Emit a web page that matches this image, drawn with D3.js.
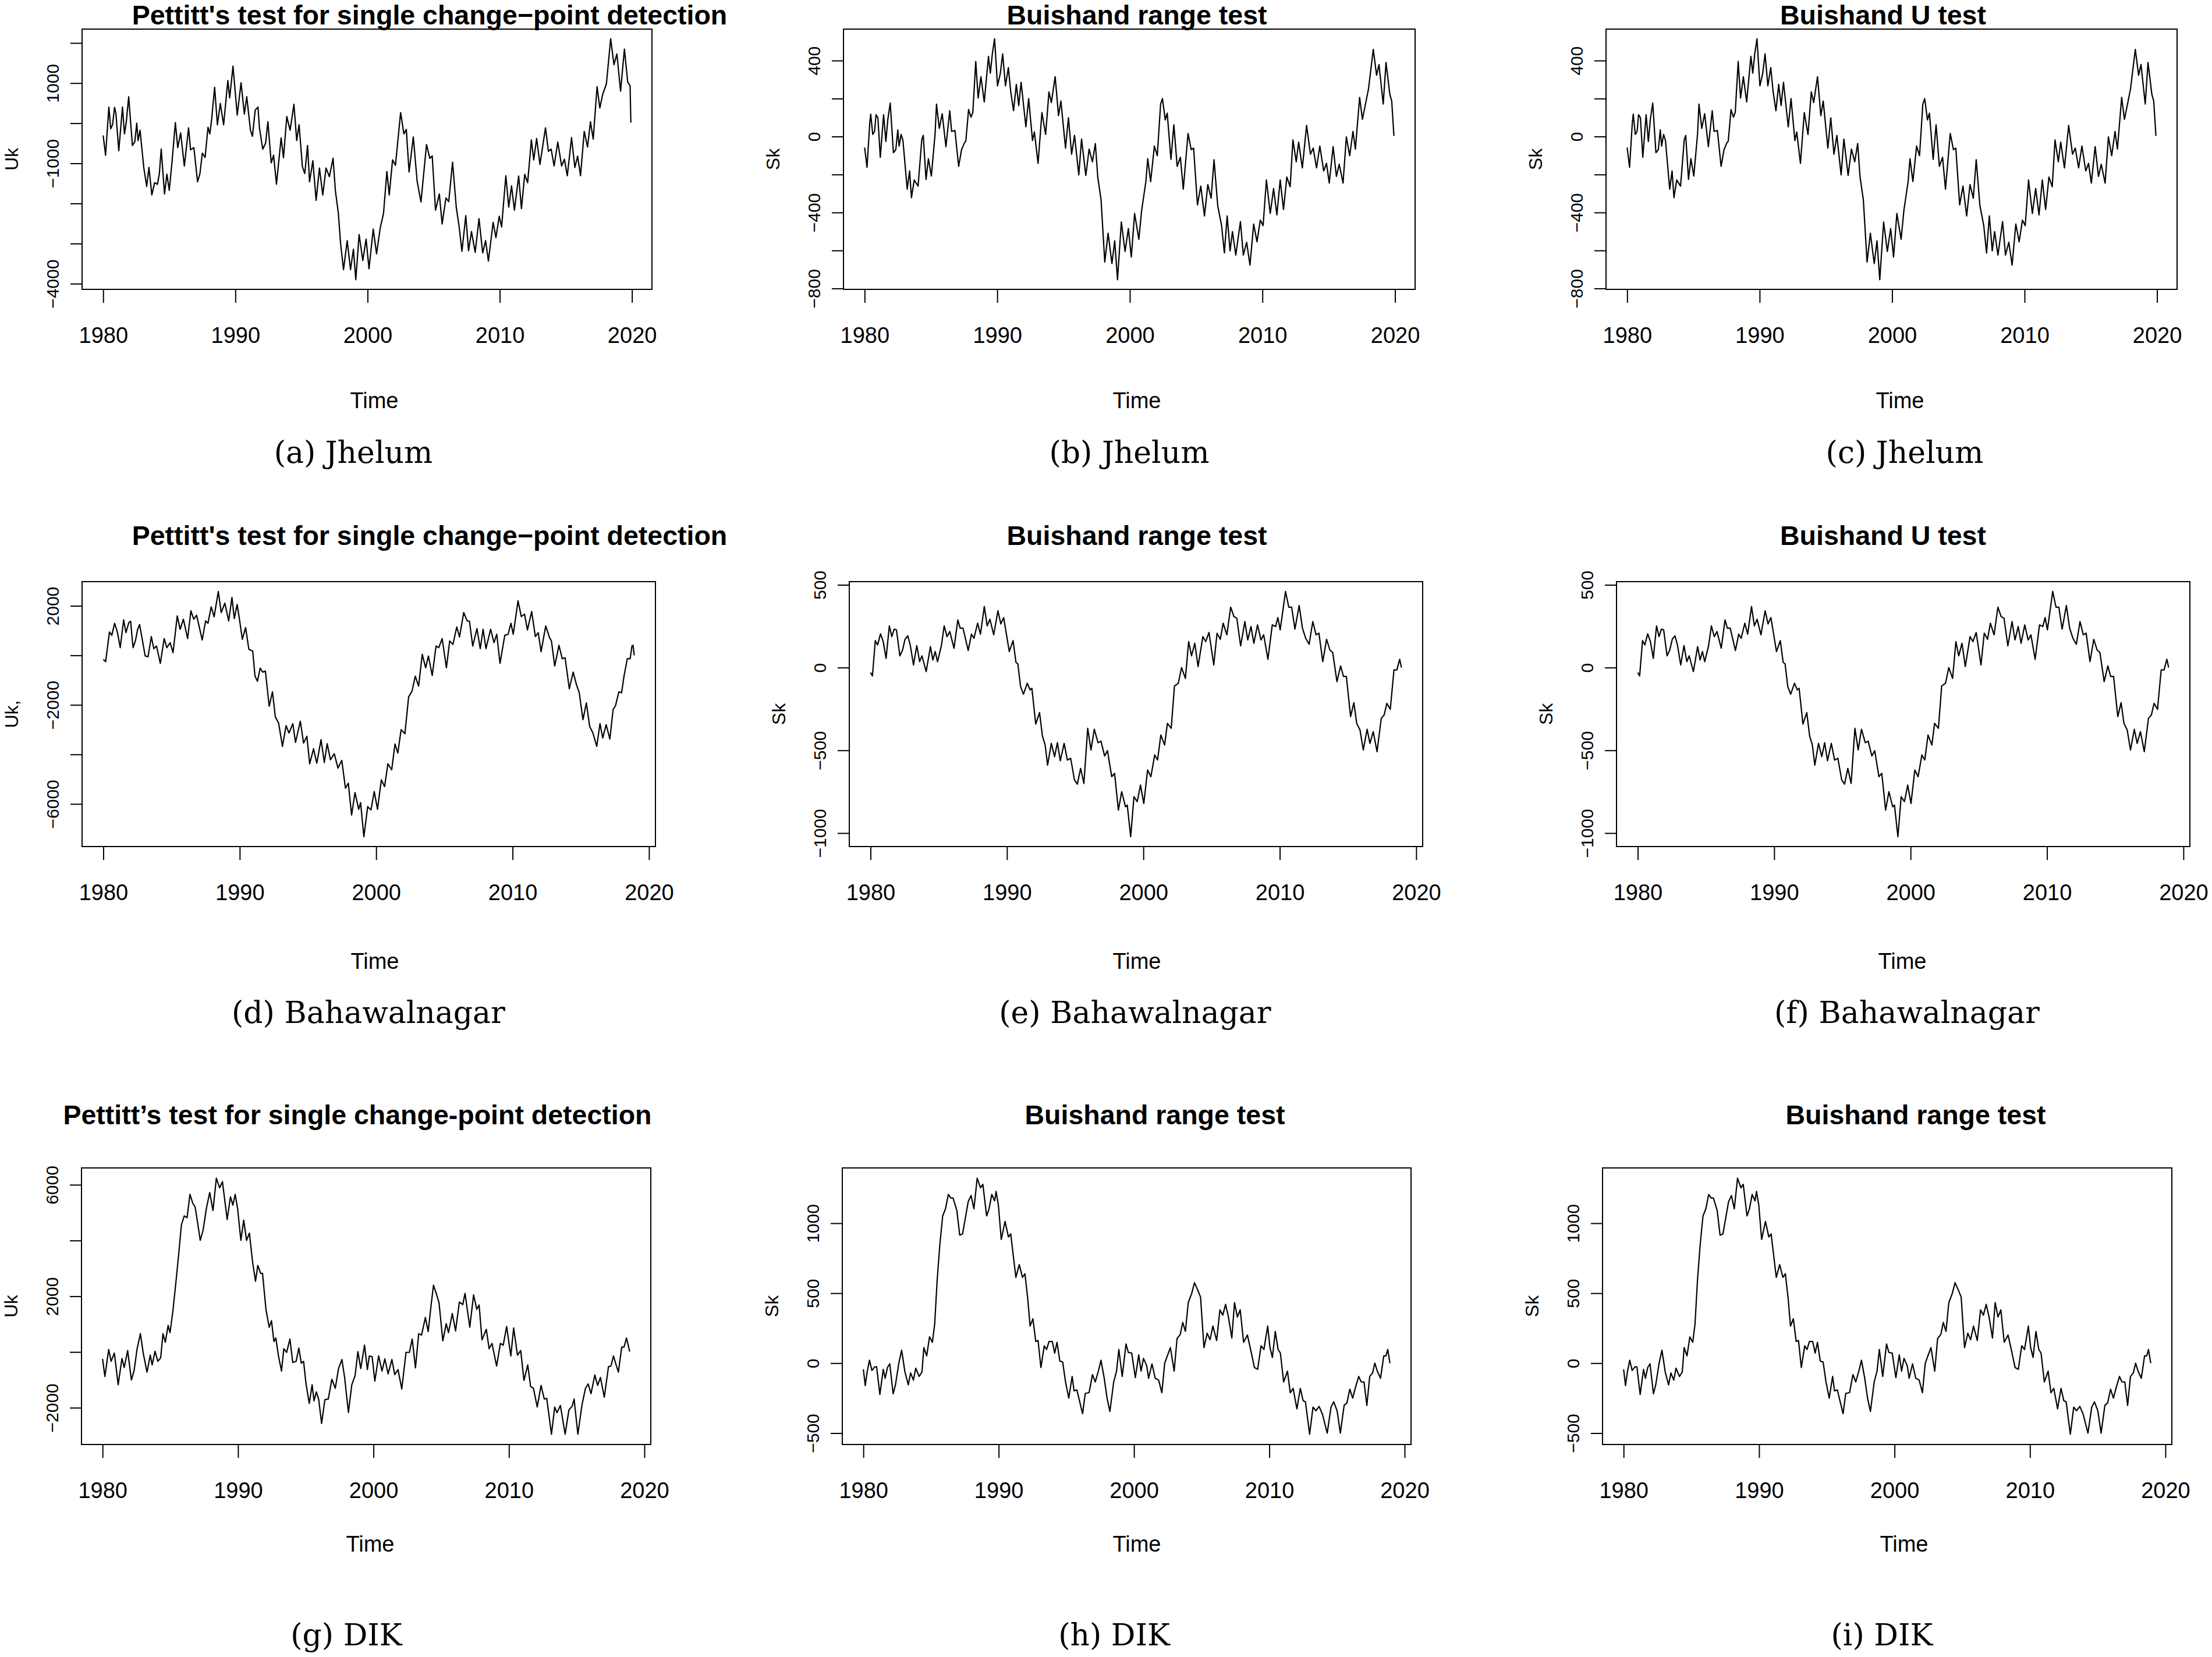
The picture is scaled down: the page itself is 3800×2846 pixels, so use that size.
<!DOCTYPE html>
<html>
<head>
<meta charset="utf-8">
<script src="https://cdn.jsdelivr.net/npm/d3@7"></script>
<style>
  body { margin: 0; background: #fff; }
</style>
</head>
<body>
<div id="chart"></div>
<script>
// Data
const START_YEAR = 1980
const xTicks = [1980, 1990, 2000, 2010, 2020]

// [years since Jan 1980, statistic]
const jhelumUk = [[0,-304],[0.18,-798],[0.43,403],[0.57,-137],[0.71,-38],[0.86,395],[0.96,251],[1.18,-684],[1.46,403],[1.61,-266],[1.75,38],[1.93,662],[2.21,-555],[2.39,-464],[2.54,0],[2.64,-433],[2.79,-175],[3.07,-1103],[3.29,-1574],[3.46,-1103],[3.68,-1787],[3.89,-1483],[4.11,-1521],[4.25,-1255],[4.39,-646],[4.64,-1764],[4.82,-1270],[5.0,-1673],[5.21,-951],[5.46,15],[5.64,-608],[5.86,-243],[6.14,-1065],[6.46,-114],[6.61,-662],[6.86,-608],[7.14,-1460],[7.32,-1255],[7.5,-745],[7.71,-852],[7.93,-99],[8.07,-266],[8.21,114],[8.43,897],[8.64,-38],[8.86,494],[9.11,-38],[9.43,1065],[9.57,631],[9.82,1422],[10.14,205],[10.43,1011],[10.68,228],[10.86,662],[11.14,-175],[11.29,-327],[11.5,327],[11.71,403],[11.82,-114],[12.07,-646],[12.29,-494],[12.46,38],[12.71,-988],[12.89,-798],[13.11,-1521],[13.46,-365],[13.64,-859],[13.89,167],[14.14,-175],[14.43,471],[14.64,-433],[14.82,-38],[15.07,-1080],[15.25,-1255],[15.46,-555],[15.61,-1460],[15.86,-935],[16.11,-1924],[16.36,-1118],[16.61,-1787],[16.86,-1118],[17.11,-1331],[17.39,-875],[17.57,-1696],[17.79,-2243],[17.96,-3004],[18.18,-3650],[18.46,-2928],[18.71,-3650],[18.93,-3141],[19.11,-3901],[19.36,-2776],[19.64,-3422],[19.89,-2890],[20.11,-3627],[20.43,-2639],[20.68,-3255],[20.96,-2608],[21.21,-2243],[21.46,-1202],[21.64,-1787],[21.89,-913],[22.11,-1049],[22.5,266],[22.75,-266],[22.93,-152],[23.14,-1217],[23.46,-342],[23.75,-1445],[24.04,-1962],[24.46,-532],[24.71,-875],[24.89,-814],[25.14,-2167],[25.43,-1764],[25.64,-2510],[25.93,-1863],[26.14,-1954],[26.43,-973],[26.71,-2091],[26.93,-2586],[27.14,-3194],[27.43,-2304],[27.64,-3179],[27.86,-2700],[28.14,-3217],[28.43,-2380],[28.71,-3232],[28.93,-2928],[29.14,-3437],[29.5,-2471],[29.71,-2852],[29.96,-2319],[30.14,-2586],[30.46,-1308],[30.68,-2091],[30.89,-1559],[31.11,-2167],[31.43,-1316],[31.64,-2129],[31.89,-1278],[32.11,-1483],[32.39,-418],[32.57,-913],[32.79,-380],[33.04,-1027],[33.46,-114],[33.68,-700],[33.89,-646],[34.11,-1065],[34.39,-471],[34.68,-1065],[34.89,-897],[35.11,-1308],[35.43,-357],[35.68,-1103],[35.89,-821],[36.11,-1308],[36.39,-205],[36.64,-593],[36.86,38],[37.07,-395],[37.36,913],[37.57,380],[37.79,722],[38.07,989],[38.39,2106],[38.64,1460],[38.86,1726],[39.14,798],[39.43,1848],[39.68,1027],[39.86,935],[39.917,15]]

const jhelumSk = [[0,-58],[0.18,-162],[0.39,75],[0.46,118],[0.61,11],[0.75,27],[0.86,115],[1.0,99],[1.18,-109],[1.43,115],[1.6,-26],[1.75,91],[1.93,176],[2.17,-85],[2.35,-69],[2.5,35],[2.6,-50],[2.75,11],[2.89,-21],[3.21,-277],[3.39,-181],[3.53,-322],[3.74,-229],[4.03,-261],[4.31,-16],[4.42,6],[4.63,-226],[4.81,-117],[5.03,-208],[5.31,11],[5.42,171],[5.63,43],[5.85,120],[6.13,-53],[6.42,136],[6.56,27],[6.81,32],[7.09,-157],[7.31,-69],[7.52,-34],[7.63,-24],[7.84,142],[8.02,102],[8.16,128],[8.38,395],[8.56,203],[8.77,315],[9.02,182],[9.34,422],[9.48,334],[9.63,435],[9.8,515],[10.02,267],[10.23,331],[10.41,435],[10.62,267],[10.84,363],[11.02,235],[11.23,136],[11.44,275],[11.62,163],[11.8,286],[12.16,51],[12.37,200],[12.66,-21],[12.8,24],[13.08,-141],[13.37,126],[13.65,11],[13.9,235],[14.08,179],[14.37,315],[14.62,110],[14.8,187],[15.15,-61],[15.37,99],[15.61,-93],[15.83,6],[16.15,-202],[16.36,-13],[16.68,-205],[16.93,-66],[17.18,-133],[17.4,-37],[17.58,-213],[17.83,-333],[18.11,-661],[18.36,-509],[18.65,-669],[18.86,-549],[19.07,-754],[19.36,-450],[19.64,-605],[19.89,-485],[20.11,-634],[20.36,-405],[20.68,-541],[20.89,-389],[21.21,-237],[21.35,-117],[21.57,-237],[21.85,-50],[22.07,-101],[22.32,171],[22.46,200],[22.67,88],[22.82,123],[23.1,-120],[23.32,62],[23.57,-157],[23.81,-109],[24.03,-277],[24.39,16],[24.63,-69],[24.81,-61],[25.1,-360],[25.35,-261],[25.63,-418],[25.88,-253],[26.13,-325],[26.35,-122],[26.63,-365],[26.92,-469],[27.13,-613],[27.34,-418],[27.56,-602],[27.74,-501],[27.99,-624],[28.34,-448],[28.56,-624],[28.81,-557],[29.06,-677],[29.34,-461],[29.59,-554],[29.84,-440],[30.05,-469],[30.3,-229],[30.59,-405],[30.84,-274],[31.09,-413],[31.34,-229],[31.59,-384],[31.84,-213],[32.09,-264],[32.3,-18],[32.55,-133],[32.73,-29],[33.01,-165],[33.33,59],[33.62,-93],[33.83,-61],[34.08,-165],[34.33,-50],[34.62,-181],[34.83,-141],[35.04,-245],[35.33,-53],[35.58,-210],[35.79,-146],[36.08,-245],[36.33,-2],[36.58,-101],[36.83,27],[37.01,-66],[37.33,206],[37.54,91],[37.75,163],[38.0,251],[38.36,459],[38.61,323],[38.79,379],[39.11,171],[39.32,390],[39.61,222],[39.75,187],[39.917,3]]

const bahawalUk = [[0,-162],[0.17,-257],[0.45,946],[0.62,811],[0.83,1297],[1.04,919],[1.24,311],[1.49,1432],[1.66,919],[1.87,1324],[2.0,1378],[2.18,311],[2.35,581],[2.52,1054],[2.66,1243],[2.83,716],[3.07,-27],[3.28,-54],[3.52,757],[3.7,270],[3.9,378],[4.18,-324],[4.46,676],[4.66,311],[4.9,514],[5.11,108],[5.42,1595],[5.63,1054],[5.87,1459],[6.18,676],[6.42,1797],[6.63,1459],[6.84,1622],[7.25,622],[7.5,1392],[7.67,1297],[7.91,1959],[8.12,1554],[8.43,2581],[8.64,1730],[8.91,2108],[9.19,1392],[9.43,2338],[9.6,1486],[9.81,2054],[9.98,1459],[10.19,649],[10.43,1122],[10.67,243],[10.95,176],[11.12,-838],[11.3,-1041],[11.5,-514],[11.68,-676],[11.88,-635],[12.16,-2054],[12.4,-1473],[12.61,-2486],[12.85,-2730],[13.13,-3676],[13.4,-2838],[13.61,-3135],[13.89,-2757],[14.09,-3514],[14.44,-2662],[14.68,-3541],[14.92,-3270],[15.13,-4378],[15.41,-3770],[15.65,-4351],[15.96,-3405],[16.2,-4324],[16.41,-3568],[16.65,-4216],[16.93,-3973],[17.2,-4554],[17.48,-4243],[17.75,-5365],[17.96,-5162],[18.2,-6446],[18.45,-5541],[18.72,-6216],[18.86,-5946],[19.1,-7324],[19.38,-6108],[19.62,-6243],[19.86,-5500],[20.1,-6216],[20.38,-5027],[20.62,-5297],[20.86,-4378],[21.14,-4622],[21.38,-3581],[21.59,-3946],[21.83,-3000],[22.11,-3162],[22.38,-1676],[22.63,-1446],[22.87,-838],[23.11,-1243],[23.38,41],[23.63,-500],[23.83,-27],[24.11,-811],[24.39,378],[24.59,311],[24.84,676],[25.15,-500],[25.39,581],[25.63,446],[25.91,1149],[26.11,743],[26.42,1730],[26.67,1392],[26.84,1378],[27.08,378],[27.39,1081],[27.63,270],[27.84,1054],[28.05,270],[28.39,1054],[28.64,514],[28.84,851],[29.08,-324],[29.43,811],[29.67,851],[29.88,1297],[30.05,851],[30.4,2203],[30.64,1568],[30.88,1662],[31.09,1027],[31.4,1770],[31.67,757],[31.88,919],[32.09,149],[32.43,1189],[32.71,716],[32.85,581],[33.09,-432],[33.4,405],[33.64,-135],[33.85,-95],[34.16,-1351],[34.44,-676],[34.68,-1176],[34.89,-1514],[35.16,-2595],[35.41,-1919],[35.65,-2865],[35.89,-3135],[36.17,-3676],[36.41,-2757],[36.61,-3338],[36.86,-2797],[37.13,-3378],[37.37,-2189],[37.55,-2027],[37.79,-1473],[37.99,-1514],[38.17,-838],[38.41,-135],[38.62,-135],[38.75,378],[38.83,405],[38.917,0]]

const bahawalSk = [[0,-30],[0.14,-50],[0.35,163],[0.52,137],[0.73,204],[0.93,157],[1.14,56],[1.38,252],[1.56,187],[1.73,232],[1.9,228],[2.15,71],[2.35,107],[2.53,171],[2.73,192],[2.91,137],[3.15,16],[3.39,133],[3.6,36],[3.77,71],[4.08,-24],[4.39,127],[4.57,46],[4.74,97],[4.91,36],[5.19,131],[5.4,252],[5.61,187],[5.81,218],[6.12,117],[6.4,288],[6.57,238],[6.78,238],[7.16,103],[7.4,202],[7.58,177],[7.85,268],[8.06,202],[8.34,369],[8.55,252],[8.75,292],[9.03,198],[9.34,343],[9.55,264],[9.76,302],[10.03,167],[10.17,97],[10.45,163],[10.66,32],[10.8,22],[11.0,-115],[11.21,-161],[11.49,-95],[11.7,-135],[11.83,-125],[12.11,-341],[12.39,-272],[12.6,-413],[12.8,-468],[12.98,-589],[13.25,-458],[13.49,-538],[13.7,-454],[13.91,-563],[14.19,-458],[14.43,-559],[14.67,-548],[14.95,-679],[15.16,-704],[15.4,-609],[15.64,-700],[15.92,-367],[16.16,-498],[16.4,-373],[16.68,-454],[16.89,-444],[17.16,-534],[17.37,-502],[17.68,-659],[17.89,-639],[18.17,-861],[18.41,-750],[18.69,-841],[18.82,-831],[19.07,-1022],[19.31,-780],[19.55,-810],[19.79,-710],[20.03,-821],[20.31,-619],[20.55,-659],[20.83,-528],[21.04,-558],[21.28,-407],[21.56,-468],[21.76,-337],[22.04,-367],[22.28,-111],[22.56,-95],[22.8,0],[23.08,-65],[23.32,157],[23.53,71],[23.77,147],[24.01,6],[24.36,187],[24.57,157],[24.81,212],[25.16,16],[25.4,208],[25.64,171],[25.85,268],[26.12,198],[26.4,365],[26.64,308],[26.85,298],[27.13,131],[27.44,278],[27.65,167],[27.89,248],[28.1,147],[28.37,258],[28.62,167],[28.82,198],[29.13,50],[29.45,258],[29.69,248],[29.86,302],[30.03,228],[30.42,460],[30.66,365],[30.87,365],[31.11,232],[31.42,375],[31.66,238],[31.9,177],[32.15,141],[32.42,278],[32.66,198],[32.87,208],[33.15,36],[33.43,171],[33.67,107],[33.88,91],[34.19,-85],[34.46,10],[34.67,-54],[34.88,-54],[35.19,-296],[35.43,-212],[35.64,-337],[35.88,-377],[36.12,-498],[36.4,-373],[36.61,-458],[36.85,-387],[37.13,-508],[37.44,-306],[37.65,-286],[37.85,-216],[38.1,-252],[38.37,-14],[38.58,-14],[38.79,50],[38.917,0]]

const dikUk = [[0,-245],[0.17,-876],[0.45,90],[0.63,-335],[0.87,-39],[1.15,-1173],[1.43,-232],[1.6,-554],[1.85,52],[2.13,-1005],[2.33,-657],[2.54,90],[2.79,657],[3.0,-39],[3.28,-722],[3.52,-116],[3.66,-464],[3.87,26],[4.08,-335],[4.29,-206],[4.46,657],[4.63,348],[4.84,954],[4.98,696],[5.19,1469],[5.4,2436],[5.61,3466],[5.82,4562],[6.03,4884],[6.24,4820],[6.45,5657],[6.66,5335],[6.83,5206],[7.0,4691],[7.21,4008],[7.42,4369],[7.67,5168],[7.91,5722],[8.15,5077],[8.4,6237],[8.64,5889],[8.85,6108],[9.2,4755],[9.44,5567],[9.62,5271],[9.79,5657],[9.97,5142],[10.21,4008],[10.42,4729],[10.63,4008],[10.84,4265],[11.08,3209],[11.29,2539],[11.46,3106],[11.67,2822],[11.81,2822],[12.06,1534],[12.3,889],[12.47,1121],[12.65,374],[12.79,503],[13.0,-180],[13.21,-683],[13.38,116],[13.59,-13],[13.83,464],[14.04,-374],[14.29,-335],[14.49,142],[14.67,-400],[14.84,-335],[15.02,-1147],[15.26,-1843],[15.47,-1173],[15.61,-1753],[15.78,-1430],[15.96,-1714],[16.17,-2564],[16.41,-1714],[16.66,-1688],[16.93,-979],[17.18,-1302],[17.42,-593],[17.67,-271],[17.87,-915],[18.15,-2165],[18.4,-1173],[18.64,-851],[18.85,13],[19.06,-593],[19.34,245],[19.55,-631],[19.69,-142],[19.9,-168],[20.1,-1044],[20.38,-142],[20.63,-683],[20.84,-245],[21.08,-786],[21.36,-271],[21.57,-812],[21.81,-631],[22.09,-1327],[22.4,-13],[22.65,-13],[22.86,464],[23.1,-567],[23.34,657],[23.55,606],[23.83,1237],[24.04,735],[24.25,1662],[24.43,2397],[24.67,2049],[24.84,1765],[25.12,400],[25.37,1018],[25.54,696],[25.82,1379],[26.06,760],[26.34,1791],[26.59,1701],[26.76,2101],[27.11,889],[27.39,2049],[27.63,1534],[27.8,1688],[28.01,438],[28.33,812],[28.54,116],[28.75,309],[29.09,-503],[29.37,309],[29.58,245],[29.83,915],[30.14,-142],[30.35,863],[30.63,-116],[30.87,52],[31.11,-1018],[31.39,-464],[31.6,-1237],[31.81,-1302],[32.09,-1972],[32.37,-1198],[32.61,-1688],[32.79,-1662],[33.14,-2951],[33.38,-1972],[33.55,-2178],[33.8,-1920],[34.15,-2951],[34.43,-2075],[34.67,-1946],[34.81,-1688],[35.09,-2951],[35.4,-1881],[35.65,-1302],[35.85,-1147],[36.06,-1495],[36.34,-825],[36.55,-1198],[36.76,-915],[37.04,-1624],[37.35,-528],[37.53,-503],[37.72,-142],[37.89,-425],[38.08,-722],[38.33,180],[38.5,180],[38.68,503],[38.917,13]]

const dikSk = [[0,-44],[0.14,-160],[0.28,-62],[0.45,21],[0.63,-52],[0.84,-26],[0.98,-26],[1.22,-224],[1.47,-44],[1.61,-108],[1.78,-31],[1.95,-5],[2.2,-219],[2.37,-155],[2.62,0],[2.83,93],[3.07,-62],[3.32,-155],[3.49,-70],[3.7,-121],[3.87,-36],[4.12,-95],[4.33,-64],[4.47,111],[4.68,52],[4.89,188],[5.1,149],[5.27,278],[5.45,588],[5.65,845],[5.86,1052],[6.07,1103],[6.28,1206],[6.46,1180],[6.63,1180],[6.91,1090],[7.12,915],[7.33,923],[7.54,1039],[7.75,1155],[7.96,1198],[8.17,1103],[8.41,1322],[8.66,1253],[8.83,1278],[9.11,1052],[9.29,1103],[9.49,1206],[9.7,1160],[9.81,1227],[9.98,1129],[10.19,884],[10.47,1013],[10.72,902],[10.89,923],[11.27,613],[11.52,704],[11.76,613],[11.94,639],[12.15,459],[12.32,265],[12.53,317],[12.74,155],[12.91,162],[13.12,-31],[13.37,124],[13.54,98],[13.72,155],[13.96,155],[14.14,72],[14.31,149],[14.52,15],[14.73,8],[14.94,-134],[15.18,-250],[15.43,-95],[15.57,-198],[15.78,-191],[15.99,-276],[16.2,-361],[16.4,-216],[16.68,-211],[16.93,-82],[17.14,-134],[17.38,-52],[17.56,21],[17.8,-108],[18.01,-250],[18.22,-345],[18.5,-134],[18.71,-57],[18.88,98],[19.13,-95],[19.41,137],[19.58,77],[19.83,72],[20.1,-103],[20.35,59],[20.52,-57],[20.7,34],[20.94,-18],[21.08,-108],[21.33,-5],[21.57,-108],[21.82,-121],[22.06,-211],[22.27,0],[22.44,46],[22.69,111],[22.97,-57],[23.18,175],[23.42,206],[23.6,291],[23.8,227],[24.01,433],[24.26,497],[24.47,575],[24.71,523],[24.92,472],[25.17,111],[25.41,214],[25.62,168],[25.83,265],[26.11,162],[26.35,381],[26.56,343],[26.77,420],[26.98,330],[27.23,180],[27.43,433],[27.64,330],[27.85,381],[28.1,149],[28.38,201],[28.59,111],[28.9,-31],[29.14,-44],[29.39,124],[29.6,98],[29.88,265],[30.05,111],[30.23,41],[30.44,227],[30.65,98],[30.82,72],[31.06,-134],[31.34,-57],[31.55,-211],[31.76,-180],[32.04,-327],[32.29,-180],[32.5,-268],[32.67,-276],[32.98,-508],[33.23,-314],[33.44,-340],[33.68,-309],[33.93,-366],[34.28,-500],[34.56,-314],[34.76,-276],[35.01,-340],[35.25,-500],[35.53,-302],[35.74,-283],[35.95,-186],[36.16,-250],[36.37,-173],[36.61,-95],[36.79,-134],[37.0,-134],[37.21,-302],[37.42,-95],[37.63,-70],[37.8,0],[37.98,-57],[38.22,-108],[38.46,52],[38.62,52],[38.75,98],[38.917,0]]

// Tick values and which of them carry a label
const ukJhelumTicks = [-4000, -3000, -2000, -1000, 0, 1000, 2000]
const ukJhelumLabels = [-4000, -1000, 1000]
const skJhelumTicks = [-800, -600, -400, -200, 0, 200, 400]
const skJhelumLabels = [-800, -400, 0, 400]
const ukBahawalTicks = [-6000, -4000, -2000, 0, 2000]
const ukBahawalLabels = [-6000, -2000, 2000]
const skBahawalTicks = [-1000, -500, 0, 500]
const skBahawalLabels = [-1000, -500, 0, 500]
const ukDikTicks = [-2000, 0, 2000, 4000, 6000]
const ukDikLabels = [-2000, 2000, 6000]
const skDikTicks = [-500, 0, 500, 1000]
const skDikLabels = [-500, 0, 500, 1000]

const titles = [
  "Pettitt's test for single change\u2212point detection", 'Buishand range test', 'Buishand U test',
  "Pettitt's test for single change\u2212point detection", 'Buishand range test', 'Buishand U test',
  'Pettitt\u2019s test for single change-point detection', 'Buishand range test', 'Buishand range test',
]
const captions = [
  '(a) Jhelum', '(b) Jhelum', '(c) Jhelum',
  '(d) Bahawalnagar', '(e) Bahawalnagar', '(f) Bahawalnagar',
  '(g) DIK', '(h) DIK', '(i) DIK',
]
const yLabelsText = ['Uk', 'Sk', 'Sk', 'Uk,', 'Sk', 'Sk', 'Uk', 'Sk', 'Sk']

const series = [jhelumUk, jhelumSk, jhelumSk, bahawalUk, bahawalSk, bahawalSk, dikUk, dikSk, dikSk]
const yTickSets = [ukJhelumTicks, skJhelumTicks, skJhelumTicks, ukBahawalTicks, skBahawalTicks, skBahawalTicks, ukDikTicks, skDikTicks, skDikTicks]
const yLabelSets = [ukJhelumLabels, skJhelumLabels, skJhelumLabels, ukBahawalLabels, skBahawalLabels, skBahawalLabels, ukDikLabels, skDikLabels, skDikLabels]

// Layout (pixels)
const rows = [
  { top: 50, bottom: 497, title: 42, time: 701, caption: 795 },
  { top: 999, bottom: 1454, title: 936, time: 1664, caption: 1757 },
  { top: 2006, bottom: 2481, title: 1931, time: 2665, caption: 2826 },
]
const cols = [
  { left: 141, right: 1120, titleX: 738, timeX: 643, capX: 607 },
  { left: 1449, right: 2431, titleX: 1953, timeX: 1953, capX: 1940 },
  { left: 2759, right: 3740, titleX: 3235, timeX: 3264, capX: 3272 },
  { left: 141, right: 1126, titleX: 738, timeX: 644, capX: 633 },
  { left: 1459, right: 2444, titleX: 1953, timeX: 1953, capX: 1950 },
  { left: 2777, right: 3762, titleX: 3235, timeX: 3268, capX: 3276 },
  { left: 140, right: 1118, titleX: 614, timeX: 636, capX: 595 },
  { left: 1447, right: 2424, titleX: 1984, timeX: 1953, capX: 1914 },
  { left: 2753, right: 3731, titleX: 3291, timeX: 3271, capX: 3233 },
]

const SANS = '"Liberation Sans", Arial, Helvetica, sans-serif'
const SERIF = '"DejaVu Serif", serif'
const minus = v => String(v).replace('-', '\u2212')

function draw() {
  const width = 3800
  const height = 2846

  const svg = d3.select('#chart')
    .append('svg')
    .attr('width', width)
    .attr('height', height)
    .attr('viewBox', `0 0 ${width} ${height}`)

  svg.append('rect')
    .attr('width', width)
    .attr('height', height)
    .attr('fill', '#fff')

  // R style axis range: data range stretched 4% each side
  const pad = ([lo, hi]) => {
    const r = hi - lo
    return [lo - 0.04 * r, hi + 0.04 * r]
  }

  series.forEach((data, i) => {
    const row = rows[Math.floor(i / 3)]
    const col = cols[i]
    const g = svg.append('g')

    const xScale = d3.scaleLinear()
      .domain(pad(d3.extent(data, d => START_YEAR + d[0])))
      .range([col.left, col.right])

    const yScale = d3.scaleLinear()
      .domain(pad(d3.extent(data, d => d[1])))
      .range([row.bottom, row.top])

    // Series
    const line = d3.line()
      .x(d => xScale(START_YEAR + d[0]))
      .y(d => yScale(d[1]))

    g.append('path')
      .datum(data)
      .attr('d', line)
      .attr('fill', 'none')
      .attr('stroke', '#000')
      .attr('stroke-width', 2.2)
      .attr('stroke-linejoin', 'round')

    // Box
    g.append('rect')
      .attr('x', col.left)
      .attr('y', row.top)
      .attr('width', col.right - col.left)
      .attr('height', row.bottom - row.top)
      .attr('fill', 'none')
      .attr('stroke', '#000')
      .attr('stroke-width', 2)

    // Axes
    const xAxis = d3.axisBottom(xScale)
      .tickValues(xTicks)
      .tickSize(23)
      .tickFormat(d3.format('d'))

    const gx = g.append('g')
      .attr('transform', `translate(0, ${row.bottom})`)
      .call(xAxis)
      .attr('font-family', SANS)
      .attr('font-size', 38)
    gx.select('.domain').remove()
    gx.selectAll('line').attr('stroke-width', 2)
    gx.selectAll('text').attr('y', 92).attr('dy', null)

    const labels = yLabelSets[i]
    const yAxis = d3.axisLeft(yScale)
      .tickValues(yTickSets[i])
      .tickSize(20)
      .tickFormat(d => labels.includes(d) ? minus(d) : '')

    const gy = g.append('g')
      .attr('transform', `translate(${col.left}, 0)`)
      .call(yAxis)
      .attr('font-family', SANS)
      .attr('font-size', 30)
    gy.select('.domain').remove()
    gy.selectAll('line').attr('stroke-width', 2)
    gy.selectAll('text')
      .attr('transform', 'rotate(-90)')
      .attr('x', 0)
      .attr('y', -40)
      .attr('dy', null)
      .attr('text-anchor', 'middle')

    // Texts
    g.append('text')
      .attr('x', col.titleX)
      .attr('y', row.title)
      .attr('text-anchor', 'middle')
      .attr('font-family', SANS)
      .attr('font-weight', 'bold')
      .attr('font-size', 46.5)
      .text(titles[i])

    g.append('text')
      .attr('x', col.timeX)
      .attr('y', row.time)
      .attr('text-anchor', 'middle')
      .attr('font-family', SANS)
      .attr('font-size', 38)
      .text('Time')

    g.append('text')
      .attr('transform', `translate(${col.left - 110}, ${(row.top + row.bottom) / 2}) rotate(-90)`)
      .attr('text-anchor', 'middle')
      .attr('font-family', SANS)
      .attr('font-size', 32)
      .text(yLabelsText[i])

    g.append('text')
      .attr('x', col.capX)
      .attr('y', row.caption)
      .attr('text-anchor', 'middle')
      .attr('font-family', SERIF)
      .attr('font-size', 52)
      .text(captions[i])
  })
}

draw()
</script>
</body>
</html>
